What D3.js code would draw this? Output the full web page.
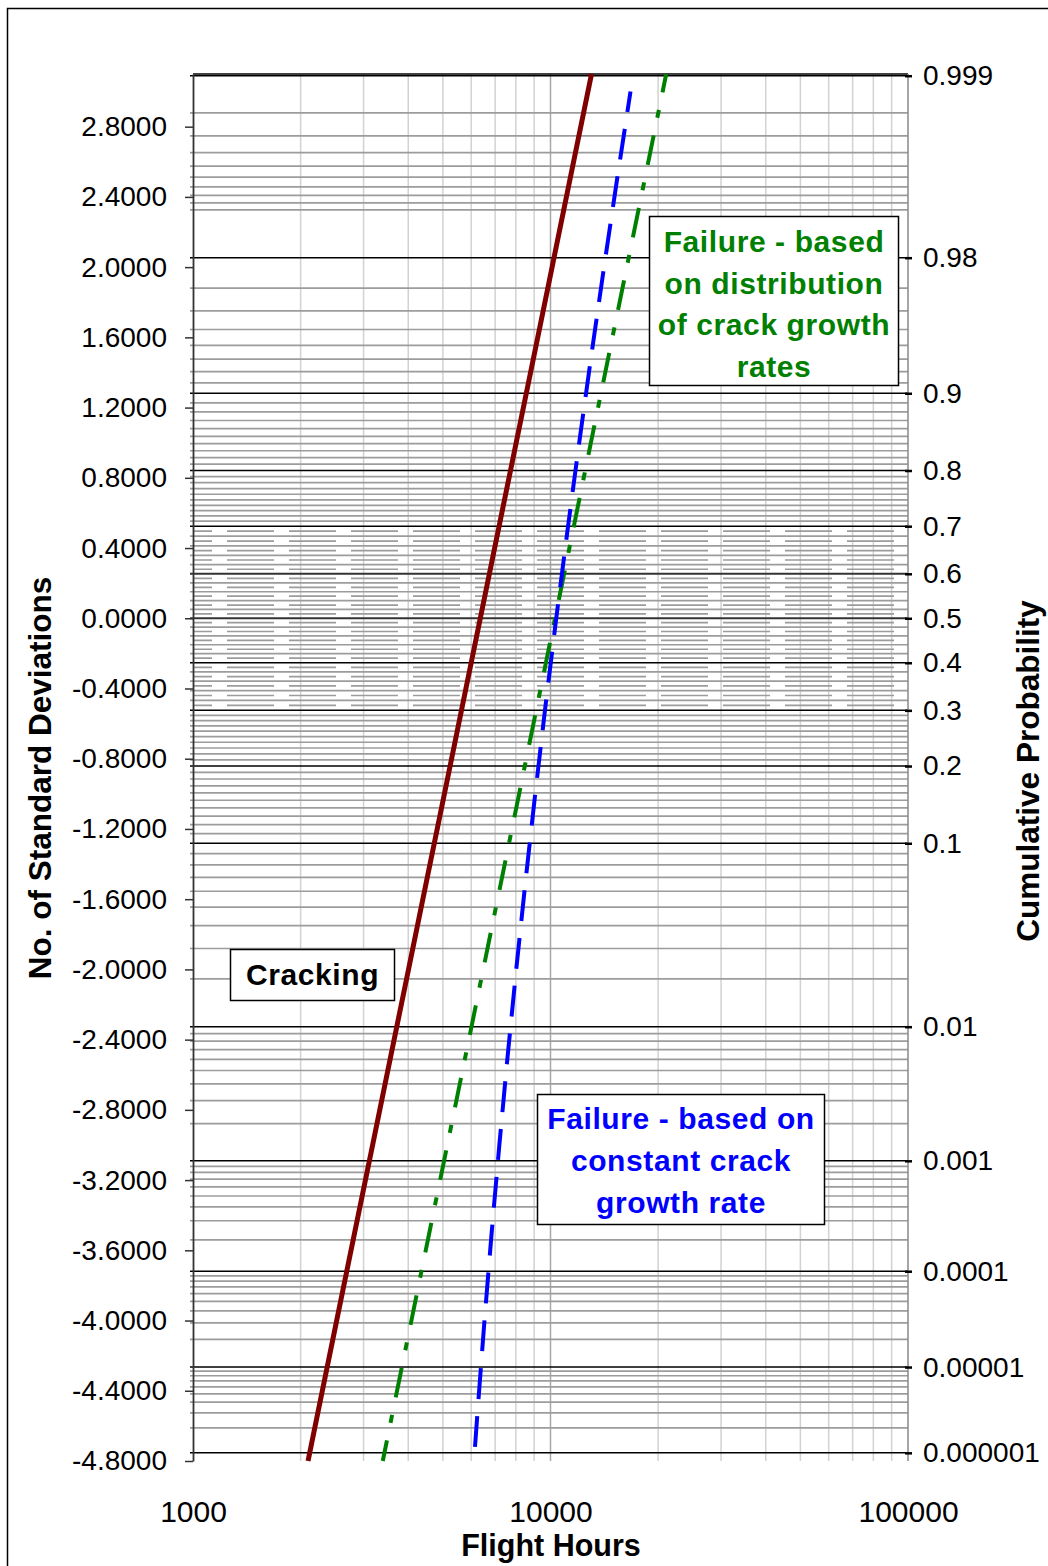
<!DOCTYPE html>
<html>
<head>
<meta charset="utf-8">
<script src="https://cdn.jsdelivr.net/npm/d3@7"></script>
<style>
body { margin: 0; background: #fff; }
svg text { font-family: "Liberation Sans", Arial, sans-serif; }
</style>
</head>
<body>
<div id="chart"></div>
<script>
// left axis: number of standard deviations
let sdTicks = [-4.8, -4.4, -4.0, -3.6, -3.2, -2.8, -2.4, -2.0, -1.6, -1.2, -0.8, -0.4, 0, 0.4, 0.8, 1.2, 1.6, 2.0, 2.4, 2.8];
// bottom axis: flight hours (log)
let hourTicks = [1000, 10000, 100000];
let hourGrid = [2000, 3000, 4000, 5000, 6000, 7000, 8000, 9000, 20000, 30000, 40000, 50000, 60000, 70000, 80000, 90000];

// right axis: cumulative probability
let probMajor = [0.000001, 0.00001, 0.0001, 0.001, 0.01, 0.1, 0.2, 0.3, 0.4, 0.5, 0.6, 0.7, 0.8, 0.9, 0.98, 0.999];
let probLabels = ["0.000001", "0.00001", "0.0001", "0.001", "0.01", "0.1", "0.2", "0.3", "0.4", "0.5", "0.6", "0.7", "0.8", "0.9", "0.98", "0.999"];
let probMinor = [
    0.000002, 0.000003, 0.000004, 0.000005, 0.000006, 0.000007, 0.000008, 0.000009,
    0.00002, 0.00003, 0.00004, 0.00005, 0.00006, 0.00007, 0.00008, 0.00009,
    0.0002, 0.0003, 0.0004, 0.0005, 0.0006, 0.0007, 0.0008, 0.0009,
    0.002, 0.003, 0.004, 0.005, 0.006, 0.007, 0.008, 0.009,
    0.02, 0.03, 0.04, 0.05, 0.06, 0.07, 0.08, 0.09,
    0.11, 0.12, 0.13, 0.14, 0.15, 0.16, 0.17, 0.18, 0.19,
    0.21, 0.22, 0.23, 0.24, 0.25, 0.26, 0.27, 0.28, 0.29,
    0.32, 0.34, 0.36, 0.38, 0.42, 0.44, 0.46, 0.48,
    0.52, 0.54, 0.56, 0.58, 0.62, 0.64, 0.66, 0.68,
    0.71, 0.72, 0.73, 0.74, 0.75, 0.76, 0.77, 0.78, 0.79,
    0.81, 0.82, 0.83, 0.84, 0.85, 0.86, 0.87, 0.88, 0.89,
    0.91, 0.92, 0.93, 0.94, 0.95, 0.96, 0.97,
    0.99, 0.991, 0.992, 0.993, 0.994, 0.995, 0.996, 0.997, 0.998
];
let probDashed = [0.31, 0.33, 0.35, 0.37, 0.39, 0.41, 0.43, 0.45, 0.47, 0.49,
    0.51, 0.53, 0.55, 0.57, 0.59, 0.61, 0.63, 0.65, 0.67, 0.69];

// series: z (std devs) vs flight hours
let crackZ = [-4.8, -4.5, -4.0, -3.5, -3.0, -2.5, -2.0, -1.5, -1.0, -0.5, 0, 0.5, 1.0, 1.5, 2.0, 2.5, 3.1];
let crackHours = [2098, 2248, 2523, 2832, 3180, 3569, 4007, 4498, 5050, 5668, 6363, 7141, 8017, 9000, 10102, 11339, 13025];

let rateZ = [-4.8, -4.5, -4.0, -3.5, -3.0, -2.5, -2.0, -1.5, -1.0, -0.5, 0, 0.5, 1.0, 1.5, 2.0, 2.5, 3.1];
let rateHours = [3395, 3637, 4082, 4582, 5145, 5775, 6483, 7278, 8171, 9171, 10295, 11557, 12972, 14562, 16345, 18348, 21071];

let constZ = [-4.72, -4.5, -4.0, -3.5, -3.0, -2.5, -2.0, -1.5, -1.0, -0.5, 0, 0.5, 1.0, 1.5, 2.0, 2.5, 3.0];
let constHours = [6149, 6261, 6536, 6845, 7193, 7582, 8020, 8511, 9063, 9681, 10376, 11156, 12030, 13013, 14115, 15353, 16741];

// inverse normal cdf (Acklam) for placing the probability scale
function probit(p) {
    const a = [-3.969683028665376e+01, 2.209460984245205e+02, -2.759285104469687e+02, 1.383577518672690e+02, -3.066479806614716e+01, 2.506628277459239e+00];
    const b = [-5.447609879822406e+01, 1.615858368580409e+02, -1.556989798598866e+02, 6.680131188771972e+01, -1.328068155288572e+01];
    const c = [-7.784894002430293e-03, -3.223964580411365e-01, -2.400758277161838e+00, -2.549732539343734e+00, 4.374664141464968e+00, 2.938163982698783e+00];
    const d = [7.784695709041462e-03, 3.224671290700398e-01, 2.445134137142996e+00, 3.754408661907416e+00];
    let q, r;
    if (p < 0.02425) {
        q = Math.sqrt(-2 * Math.log(p));
        return (((((c[0]*q+c[1])*q+c[2])*q+c[3])*q+c[4])*q+c[5]) / ((((d[0]*q+d[1])*q+d[2])*q+d[3])*q+1);
    }
    if (p <= 1 - 0.02425) {
        q = p - 0.5; r = q * q;
        return (((((a[0]*r+a[1])*r+a[2])*r+a[3])*r+a[4])*r+a[5])*q / (((((b[0]*r+b[1])*r+b[2])*r+b[3])*r+b[4])*r+1);
    }
    q = Math.sqrt(-2 * Math.log(1 - p));
    return -(((((c[0]*q+c[1])*q+c[2])*q+c[3])*q+c[4])*q+c[5]) / ((((d[0]*q+d[1])*q+d[2])*q+d[3])*q+1);
}

var margin = {top: 74, right: 140, bottom: 105, left: 193},
    width = 1048 - margin.left - margin.right,
    height = 1566 - margin.top - margin.bottom;

var root = d3.select("#chart")
    .append("svg")
    .attr("width", 1048)
    .attr("height", 1566);

// outer frame
root.append("rect")
    .attr("x", 7.5).attr("y", 8.5)
    .attr("width", 1200).attr("height", 1700)
    .attr("fill", "#fff")
    .attr("stroke", "#000")
    .attr("stroke-width", 1.5);

var svg = root.append("g")
    .attr("transform", "translate(" + margin.left + "," + margin.top + ")");

var x = d3.scaleLog().domain([1000, 100000]).range([0, width]);
var y = d3.scaleLinear().domain([-4.8, 3.1]).range([height, 0]);

// vertical grid
svg.selectAll(".vgrid")
    .data(hourGrid)
    .enter().append("line")
    .attr("x1", d => x(d)).attr("x2", d => x(d))
    .attr("y1", 0).attr("y2", height)
    .attr("stroke", "#d2d2d2")
    .attr("stroke-width", 1.5);
svg.append("line")
    .attr("x1", x(10000)).attr("x2", x(10000))
    .attr("y1", 0).attr("y2", height)
    .attr("stroke", "#a8a8a8")
    .attr("stroke-width", 1.5);

// horizontal probability grid
svg.selectAll(".hminor")
    .data(probMinor)
    .enter().append("line")
    .attr("x1", -3).attr("x2", width)
    .attr("y1", d => y(probit(d))).attr("y2", d => y(probit(d)))
    .attr("stroke", "#9c9c9c")
    .attr("stroke-width", 1.7);
svg.selectAll(".hdash")
    .data(probDashed)
    .enter().append("line")
    .attr("x1", 0).attr("x2", width)
    .attr("y1", d => y(probit(d))).attr("y2", d => y(probit(d)))
    .attr("stroke", "#9c9c9c")
    .attr("stroke-width", 1.7)
    .attr("stroke-dasharray", "47,15")
    .attr("stroke-dashoffset", 28);
svg.selectAll(".hmajor")
    .data(probMajor)
    .enter().append("line")
    .attr("x1", -3).attr("x2", width)
    .attr("y1", d => y(probit(d))).attr("y2", d => y(probit(d)))
    .attr("stroke", d => (d == 0.5 || d == 0.6) ? "#333" : "#000")
    .attr("stroke-width", d => (d == 0.5 || d == 0.6) ? 2 : 1.5);

// top border of plot
svg.append("line")
    .attr("x1", 0).attr("x2", width)
    .attr("y1", 0).attr("y2", 0)
    .attr("stroke", "#000").attr("stroke-width", 1.5);

// right axis line
svg.append("line")
    .attr("x1", width).attr("x2", width)
    .attr("y1", 0).attr("y2", height)
    .attr("stroke", "#888").attr("stroke-width", 1.5);

// left axis
var yAxis = svg.append("g")
    .call(d3.axisLeft(y)
        .tickValues(sdTicks)
        .tickSize(8)
        .tickSizeOuter(0)
        .tickPadding(18)
        .tickFormat(d => d3.format(".4f")(d).replace("\u2212", "-")));
yAxis.select(".domain").attr("stroke", "#333").attr("stroke-width", 1.8);
yAxis.selectAll(".tick line").attr("stroke", "#333").attr("stroke-width", 1.5);
yAxis.selectAll("text").attr("font-size", "28px").attr("fill", "#000")
    .style("font-family", "'Liberation Sans', Arial, sans-serif");

// right axis (probability)
var pAxis = svg.append("g")
    .attr("transform", "translate(" + width + ",0)")
    .call(d3.axisRight(y)
        .tickValues(probMajor.map(probit))
        .tickSize(4)
        .tickSizeOuter(0)
        .tickPadding(11)
        .tickFormat((d, i) => probLabels[i]));
pAxis.select(".domain").remove();
pAxis.selectAll(".tick line").attr("x1", -3).attr("stroke", "#000").attr("stroke-width", 2.5);
pAxis.selectAll("text").attr("font-size", "28px").attr("fill", "#000")
    .style("font-family", "'Liberation Sans', Arial, sans-serif");

// bottom axis
var xAxis = svg.append("g")
    .attr("transform", "translate(0," + height + ")")
    .call(d3.axisBottom(x)
        .tickValues(hourTicks)
        .tickSize(0)
        .tickPadding(40)
        .tickFormat(d3.format("d")));
xAxis.select(".domain").remove();
xAxis.selectAll("text").attr("font-size", "30px").attr("fill", "#000")
    .style("font-family", "'Liberation Sans', Arial, sans-serif");

// series
var line = d3.line()
    .x(d => x(d.h))
    .y(d => y(d.z));

var crackData = crackZ.map((z, i) => ({z: z, h: crackHours[i]}));
var rateData = rateZ.map((z, i) => ({z: z, h: rateHours[i]}));
var constData = constZ.map((z, i) => ({z: z, h: constHours[i]}));

svg.append("path")
    .datum(rateData)
    .attr("fill", "none")
    .attr("stroke", "#008000")
    .attr("stroke-width", 4)
    .attr("stroke-dasharray", "30,18,8,18")
    .attr("stroke-dashoffset", 9)
    .attr("d", line);

svg.append("path")
    .datum(constData)
    .attr("fill", "none")
    .attr("stroke", "#0000ff")
    .attr("stroke-width", 4)
    .attr("stroke-dasharray", "31,17")
    .attr("d", line);

svg.append("path")
    .datum(crackData)
    .attr("fill", "none")
    .attr("stroke", "#800000")
    .attr("stroke-width", 5)
    .attr("d", line);

// annotation boxes
function textBox(bx, by, bw, bh, lines, color, baselines) {
    root.append("rect")
        .attr("x", bx).attr("y", by)
        .attr("width", bw).attr("height", bh)
        .attr("fill", "#fff")
        .attr("stroke", "#000")
        .attr("stroke-width", 1.5);
    lines.forEach(function (t, i) {
        root.append("text")
            .attr("x", bx + bw / 2)
            .attr("y", baselines[i])
            .attr("text-anchor", "middle")
            .attr("font-size", "30px")
            .attr("font-weight", "bold")
            .attr("letter-spacing", "0.6px")
            .attr("fill", color)
            .text(t);
    });
}

textBox(230.5, 949.5, 164, 51, ["Cracking"], "#000", [985]);
textBox(649.5, 216.5, 249, 169, ["Failure - based", "on distribution", "of crack growth", "rates"], "#008000", [252, 294, 335, 377]);
textBox(537.5, 1094.5, 287, 130, ["Failure - based on", "constant crack", "growth rate"], "#0000ff", [1129, 1171, 1213]);

// axis titles
root.append("text")
    .attr("transform", "translate(51,778) rotate(-90)")
    .attr("text-anchor", "middle")
    .attr("font-size", "31.5px")
    .attr("font-weight", "bold")
    .text("No. of Standard Deviations");

root.append("text")
    .attr("transform", "translate(1039,771) rotate(-90)")
    .attr("text-anchor", "middle")
    .attr("font-size", "31.5px")
    .attr("font-weight", "bold")
    .text("Cumulative Probability");

root.append("text")
    .attr("x", 551)
    .attr("y", 1556)
    .attr("text-anchor", "middle")
    .attr("font-size", "30.5px")
    .attr("font-weight", "bold")
    .text("Flight Hours");
</script>
</body>
</html>
